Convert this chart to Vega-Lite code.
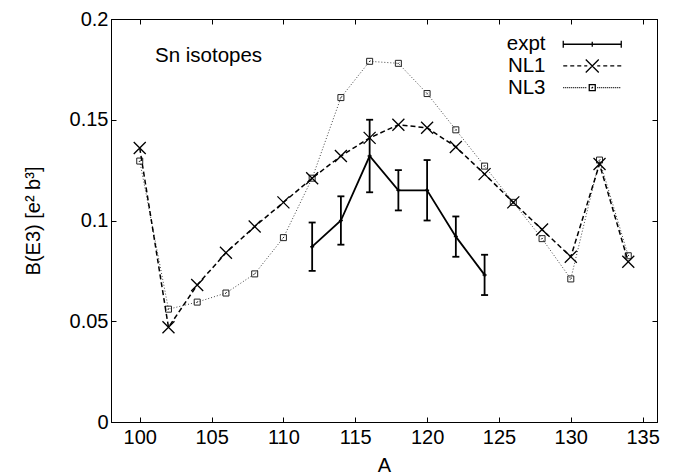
{
  "$schema": "https://vega.github.io/schema/vega-lite/v6.json",
  "width": 546,
  "height": 403,
  "autosize": "none",
  "padding": {"left": 111, "top": 19, "right": 24, "bottom": 53},
  "background": "white",
  "config": {
    "font": "Liberation Sans",
    "view": {"stroke": "black", "strokeWidth": 1},
    "axis": {
      "grid": false,
      "domainColor": "black",
      "tickColor": "black",
      "labelColor": "black",
      "titleColor": "black",
      "labelFontSize": 20,
      "titleFontSize": 20,
      "titleFontWeight": "normal",
      "labelFont": "Liberation Sans",
      "titleFont": "Liberation Sans",
      "tickSize": -5,
      "domainWidth": 1,
      "tickWidth": 1
    }
  },
  "title": {
    "text": "Sn isotopes",
    "anchor": "start",
    "frame": "group",
    "fontSize": 20.5,
    "fontWeight": "normal",
    "font": "Liberation Sans",
    "color": "black",
    "offset": 0,
    "baseline": "middle",
    "dx": 44,
    "dy": 67
  },
  "datasets": {
    "nl1": [
      {"A": 100, "B": 0.136}, {"A": 102, "B": 0.047}, {"A": 104, "B": 0.068},
      {"A": 106, "B": 0.084}, {"A": 108, "B": 0.097}, {"A": 110, "B": 0.109},
      {"A": 112, "B": 0.121}, {"A": 114, "B": 0.132}, {"A": 116, "B": 0.141},
      {"A": 118, "B": 0.1475}, {"A": 120, "B": 0.146}, {"A": 122, "B": 0.1365},
      {"A": 124, "B": 0.123}, {"A": 126, "B": 0.109}, {"A": 128, "B": 0.0955},
      {"A": 130, "B": 0.082}, {"A": 132, "B": 0.128}, {"A": 134, "B": 0.0795}
    ],
    "nl3": [
      {"A": 100, "B": 0.1295}, {"A": 102, "B": 0.056}, {"A": 104, "B": 0.0595},
      {"A": 106, "B": 0.064}, {"A": 108, "B": 0.0735}, {"A": 110, "B": 0.0915},
      {"A": 112, "B": 0.121}, {"A": 114, "B": 0.161}, {"A": 116, "B": 0.179},
      {"A": 118, "B": 0.178}, {"A": 120, "B": 0.163}, {"A": 122, "B": 0.145},
      {"A": 124, "B": 0.127}, {"A": 126, "B": 0.109}, {"A": 128, "B": 0.091},
      {"A": 130, "B": 0.071}, {"A": 132, "B": 0.130}, {"A": 134, "B": 0.0825}
    ],
    "expt": [
      {"A": 112, "B": 0.087, "lo": 0.075, "hi": 0.099},
      {"A": 114, "B": 0.100, "lo": 0.088, "hi": 0.112},
      {"A": 116, "B": 0.132, "lo": 0.114, "hi": 0.150},
      {"A": 118, "B": 0.115, "lo": 0.105, "hi": 0.125},
      {"A": 120, "B": 0.115, "lo": 0.100, "hi": 0.130},
      {"A": 122, "B": 0.092, "lo": 0.082, "hi": 0.102},
      {"A": 124, "B": 0.073, "lo": 0.063, "hi": 0.083}
    ],
    "legend": [
      {"series": "expt"}, {"series": "NL1"}, {"series": "NL3"}
    ]
  },
  "resolve": {"axis": {"x": "independent", "y": "independent"}},
  "layer": [
    {
      "data": {"name": "nl3"},
      "mark": {"type": "line", "strokeDash": [1, 2], "strokeWidth": 1, "color": "#444444"},
      "encoding": {
        "x": {"field": "A", "type": "quantitative", "scale": {"domain": [98, 136], "nice": false, "zero": false},
              "axis": {"orient": "bottom", "values": [100, 105, 110, 115, 120, 125, 130, 135], "title": "A", "labelPadding": 10, "titlePadding": 8}},
        "y": {"field": "B", "type": "quantitative", "scale": {"domain": [0, 0.2], "nice": false, "zero": false},
              "axis": {"orient": "left", "values": [0, 0.05, 0.1, 0.15, 0.2], "format": "~g", "title": "B(E3) [e² b³]", "labelPadding": 8, "titlePadding": 26}}
      }
    },
    {
      "data": {"name": "nl3"},
      "mark": {"type": "point", "shape": "M-1,-1H1V1H-1Z M-0.25,0.25L0.25,-0.25", "size": 36, "filled": false, "stroke": "#222222", "strokeWidth": 1, "opacity": 1},
      "encoding": {
        "x": {"field": "A", "type": "quantitative", "scale": {"domain": [98, 136], "nice": false, "zero": false}, "axis": null},
        "y": {"field": "B", "type": "quantitative", "scale": {"domain": [0, 0.2], "nice": false, "zero": false}, "axis": null}
      }
    },
    {
      "data": {"name": "nl1"},
      "mark": {"type": "line", "strokeDash": [5, 3], "strokeWidth": 1.5, "color": "black"},
      "encoding": {
        "x": {"field": "A", "type": "quantitative", "scale": {"domain": [98, 136], "nice": false, "zero": false}, "axis": null},
        "y": {"field": "B", "type": "quantitative", "scale": {"domain": [0, 0.2], "nice": false, "zero": false}, "axis": null}
      }
    },
    {
      "data": {"name": "nl1"},
      "mark": {"type": "point", "shape": "M-1,-1L1,1M-1,1L1,-1", "size": 144, "filled": false, "stroke": "black", "strokeWidth": 1.3, "opacity": 1},
      "encoding": {
        "x": {"field": "A", "type": "quantitative", "scale": {"domain": [98, 136], "nice": false, "zero": false}, "axis": null},
        "y": {"field": "B", "type": "quantitative", "scale": {"domain": [0, 0.2], "nice": false, "zero": false}, "axis": null}
      }
    },
    {
      "data": {"name": "expt"},
      "mark": {"type": "rule", "strokeWidth": 1.8, "color": "black"},
      "encoding": {
        "x": {"field": "A", "type": "quantitative", "scale": {"domain": [98, 136], "nice": false, "zero": false}, "axis": null},
        "y": {"field": "lo", "type": "quantitative", "scale": {"domain": [0, 0.2], "nice": false, "zero": false}, "axis": null},
        "y2": {"field": "hi"}
      }
    },
    {
      "data": {"name": "expt"},
      "mark": {"type": "line", "strokeWidth": 1.8, "color": "black"},
      "encoding": {
        "x": {"field": "A", "type": "quantitative", "scale": {"domain": [98, 136], "nice": false, "zero": false}, "axis": null},
        "y": {"field": "B", "type": "quantitative", "scale": {"domain": [0, 0.2], "nice": false, "zero": false}, "axis": null}
      }
    },
    {
      "data": {"name": "expt"},
      "mark": {"type": "point", "shape": "M-1,0H1", "size": 49, "filled": false, "stroke": "black", "strokeWidth": 1.8, "opacity": 1},
      "encoding": {
        "x": {"field": "A", "type": "quantitative", "scale": {"domain": [98, 136], "nice": false, "zero": false}, "axis": null},
        "y": {"field": "lo", "type": "quantitative", "scale": {"domain": [0, 0.2], "nice": false, "zero": false}, "axis": null}
      }
    },
    {
      "data": {"name": "expt"},
      "mark": {"type": "point", "shape": "M-1,0H1", "size": 49, "filled": false, "stroke": "black", "strokeWidth": 1.8, "opacity": 1},
      "encoding": {
        "x": {"field": "A", "type": "quantitative", "scale": {"domain": [98, 136], "nice": false, "zero": false}, "axis": null},
        "y": {"field": "hi", "type": "quantitative", "scale": {"domain": [0, 0.2], "nice": false, "zero": false}, "axis": null}
      }
    },
    {
      "data": {"name": "expt"},
      "mark": {"type": "point", "shape": "M-1,0H1M0,-1V1", "size": 16, "filled": false, "stroke": "black", "strokeWidth": 1.5, "opacity": 1},
      "encoding": {
        "x": {"field": "A", "type": "quantitative", "scale": {"domain": [98, 136], "nice": false, "zero": false}, "axis": null},
        "y": {"field": "B", "type": "quantitative", "scale": {"domain": [0, 0.2], "nice": false, "zero": false}, "axis": null}
      }
    },
    {
      "data": {"name": "nl1"},
      "mark": {"type": "point", "opacity": 0},
      "encoding": {
        "x": {"field": "A", "type": "quantitative", "scale": {"domain": [98, 136], "nice": false, "zero": false},
              "axis": {"orient": "top", "values": [100, 105, 110, 115, 120, 125, 130, 135], "labels": false, "title": null}},
        "y": {"field": "B", "type": "quantitative", "scale": {"domain": [0, 0.2], "nice": false, "zero": false},
              "axis": {"orient": "right", "values": [0, 0.05, 0.1, 0.15, 0.2], "labels": false, "title": null}}
      }
    },
    {
      "data": {"name": "legend"},
      "mark": {"type": "point", "opacity": 0},
      "encoding": {
        "shape": {
          "field": "series",
          "type": "nominal",
          "scale": {
            "domain": ["expt", "NL1", "NL3"],
            "range": [
              "M-29,0H29M-29,-3.5V3.5M29,-3.5V3.5M0,-2.5V2.5",
              "M-29,0H-25M-22,0H-18M-15,0H-11M-8,0H-5M5,0H8M11,0H15M18,0H22M25,0H29M-6.5,-6.5L6.5,6.5M-6.5,6.5L6.5,-6.5",
              "M-29,0h1m1,0h1m1,0h1m1,0h1m1,0h1m1,0h1m1,0h1m1,0h1m1,0h1m1,0h1m1,0h1m1,0h1M5,0h1m1,0h1m1,0h1m1,0h1m1,0h1m1,0h1m1,0h1m1,0h1m1,0h1m1,0h1m1,0h1m1,0h1M-3,-3H3V3H-3ZM-0.7,0.7L0.7,-0.7"
            ]
          },
          "legend": {
            "orient": "none",
            "legendX": 471,
            "legendY": 15,
            "title": null,
            "symbolSize": 4,
            "symbolOpacity": 1,
            "symbolStrokeColor": "black",
            "symbolFillColor": "transparent",
            "symbolStrokeWidth": 1.3,
            "labelAlign": "right",
            "labelOffset": -57,
            "labelFontSize": 20.5,
            "labelFont": "Liberation Sans",
            "labelColor": "black",
            "rowPadding": 0.7,
            "padding": 0
          }
        }
      }
    }
  ]
}
